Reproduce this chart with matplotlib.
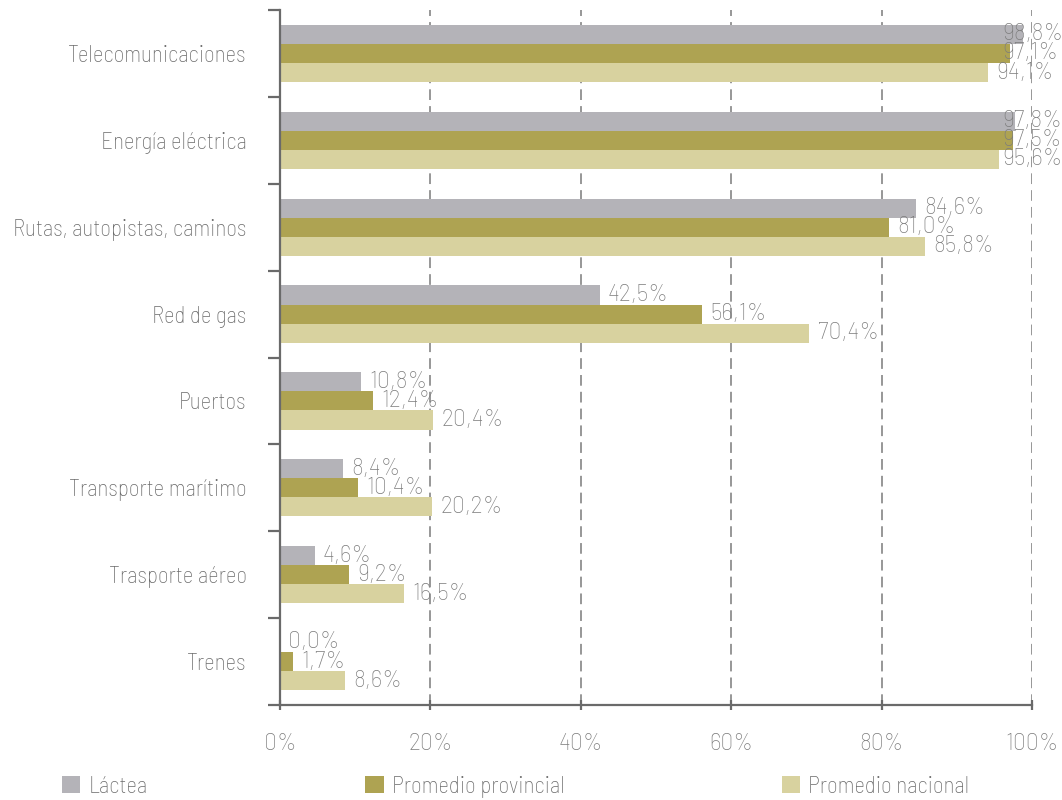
import matplotlib
matplotlib.use("Agg")
import matplotlib.pyplot as plt
import numpy as np

# categories, top to bottom
categories = ["Telecomunicaciones", "Energía eléctrica", "Rutas, autopistas, caminos",
              "Red de gas", "Puertos", "Transporte marítimo", "Trasporte aéreo", "Trenes"]

series_names = ["Láctea", "Promedio provincial", "Promedio nacional"]
lactea = [98.8, 97.8, 84.6, 42.5, 10.8, 8.4, 4.6, 0.0]
provincial = [97.1, 97.5, 81.0, 56.1, 12.4, 10.4, 9.2, 1.7]
nacional = [94.1, 95.6, 85.8, 70.4, 20.4, 20.2, 16.5, 8.6]

colors = ["#b4b3b8", "#aea352", "#d8d29f"]
x_ticks = [0, 20, 40, 60, 80, 100]

plt.rcParams["font.family"] = ["Barlow Semi Condensed", "Barlow Condensed", "DejaVu Sans"]
plt.rcParams["font.weight"] = "light"
# numbers in the original run a little wider than the words
num_font = ["Barlow", "Barlow Semi Condensed", "DejaVu Sans"]
fs = 16.5
text_gray = "#6a6a6a"
label_gray = "#7c7c7c"
axis_gray = "#6a6a6a"

fig = plt.figure(figsize=(10.62, 8), dpi=100)
ax = fig.add_axes([280 / 1062, 95 / 800, 752 / 1062, 695 / 800])

y = np.arange(len(categories))
bar_h = 0.22
data = [lactea, provincial, nacional]

for i, (vals, col, name) in enumerate(zip(data, colors, series_names)):
    pos = y + (i - 1) * bar_h
    ax.barh(pos, vals, height=bar_h, color=col, label=name, zorder=2, linewidth=0)
    for p, v in zip(pos, vals):
        lbl = ("%.1f%%" % v).replace(".", ",")
        # labels near 100% are pulled back so they stay in the picture
        ax.annotate(lbl, xy=(min(v, 95.0), p), xytext=(6, 0), textcoords="offset points",
                    ha="left", va="center", fontsize=fs, family=num_font, color=label_gray,
                    zorder=3, annotation_clip=False)

ax.set_xlim(0, 100)
ax.set_ylim(len(categories) - 0.5, -0.5)

# category labels sit between the boundary ticks
ax.set_yticks(y)
ax.set_yticklabels(categories, fontsize=fs, color=text_gray)
ax.tick_params(axis="y", which="major", length=0, pad=24)
ax.set_yticks(np.arange(len(categories) + 1) - 0.5, minor=True)
ax.tick_params(axis="y", which="minor", length=9, width=1.6, color=axis_gray, direction="out")

ax.set_xticks(x_ticks)
ax.set_xticklabels(["%d%%" % t for t in x_ticks], fontsize=fs, family=num_font, color=label_gray)
ax.tick_params(axis="x", length=7, width=1.6, color=axis_gray, direction="inout", pad=17)

ax.grid(axis="x", linestyle=(0, (7, 4)), color="#7a7a7a", linewidth=1.1, zorder=0)
ax.set_axisbelow(True)

for s in ["top", "right"]:
    ax.spines[s].set_visible(False)
for s in ["left", "bottom"]:
    ax.spines[s].set_color(axis_gray)
    ax.spines[s].set_linewidth(1.6)

fig.legend(loc="lower left", bbox_to_anchor=(62 / 1062, 0.003), ncol=3, frameon=False,
           fontsize=fs, handlelength=0.8, handleheight=0.8, handletextpad=0.35,
           columnspacing=9.5, borderpad=0, borderaxespad=0, labelcolor=text_gray)

fig.savefig("out.png", dpi=100)
